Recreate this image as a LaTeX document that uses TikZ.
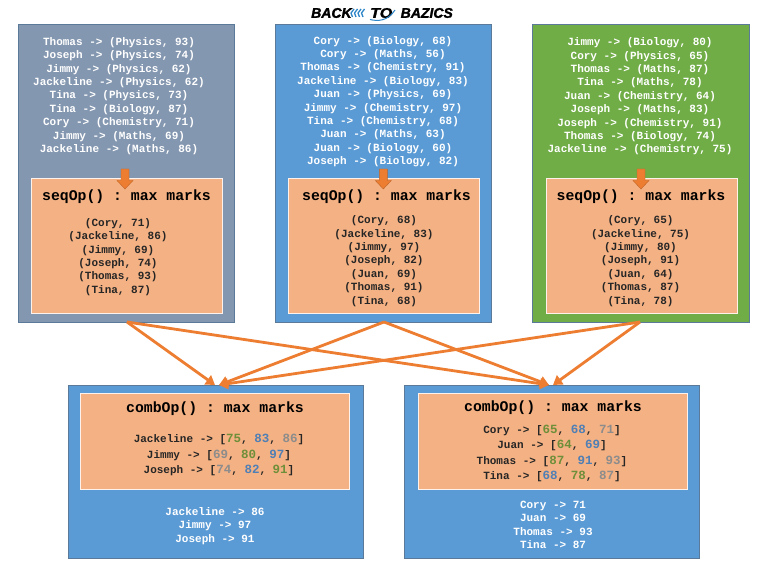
\documentclass[tikz,border=0pt]{standalone}
\usepackage{fontspec}
\setmainfont{Liberation Sans}
\setmonofont{Liberation Mono}
\newfontfamily\logofont{Liberation Sans}[BoldItalicFeatures={FakeBold=1.6}]
\usetikzlibrary{arrows.meta}
\definecolor{cslate}{HTML}{8497B0}
\definecolor{cblue}{HTML}{5B9BD5}
\definecolor{cgreen}{HTML}{70AD47}
\definecolor{cpeach}{HTML}{F4B183}
\definecolor{corange}{HTML}{ED7D31}
\definecolor{cedge}{HTML}{5B7A99}
\definecolor{ngreen}{HTML}{6E8F3A}
\definecolor{nblue}{HTML}{4F7FB5}
\definecolor{ngrey}{HTML}{8C8C8C}
\definecolor{chev}{HTML}{2E86C8}
\tikzset{
  x=1pt,y=-1pt,
  panel/.style={draw=cedge,line width=0.8pt,anchor=north west,inner sep=0pt,outer sep=0pt},
  inner panel/.style={fill=cpeach,draw=white!85!cpeach,line width=1pt,anchor=north west,inner sep=0pt,outer sep=0pt},
  light text/.style={text=white,font=\ttfamily\bfseries\fontsize{11}{13.4}\selectfont,align=center,inner sep=0pt},
  dark text/.style={text=black!85,font=\ttfamily\bfseries\fontsize{11}{13.4}\selectfont,align=center,inner sep=0pt},
  title text/.style={text=black,font=\ttfamily\bfseries\fontsize{14.8}{16}\selectfont,inner sep=0pt},
  wide dark text/.style={text=black!85,font=\ttfamily\bfseries\fontsize{11}{15.5}\selectfont,align=center,inner sep=0pt},
  flow/.style={draw=corange,line width=2.8pt,-{Triangle[length=9pt,width=11pt]}},
  small arrow/.style={fill=corange,draw=corange!80!black,line width=0.4pt},
  logo text/.style={inner sep=0pt,text=black,font=\logofont\bfseries\itshape\fontsize{14}{14}\selectfont},
  chevron/.style={draw=chev,line width=1.3pt},
}
\newcommand{\gn}[1]{{\fontsize{12.5}{15.5}\selectfont\textcolor{ngreen}{#1}}}
\newcommand{\bl}[1]{{\fontsize{12.5}{15.5}\selectfont\textcolor{nblue}{#1}}}
\newcommand{\gy}[1]{{\fontsize{12.5}{15.5}\selectfont\textcolor{ngrey}{#1}}}
\newcommand{\dnarrow}[1]{\draw[small arrow] (#1-4,169) -- (#1+4,169) -- (#1+4,180.5) -- (#1+8,180.5) -- (#1,189) -- (#1-8,180.5) -- (#1-4,180.5) -- cycle;}
\newcommand{\chevmark}[1]{\draw[chevron] (#1+3,9) -- (#1,13) -- (#1+1.5,17);}
\begin{document}
\begin{tikzpicture}
\useasboundingbox (0,0) rectangle (768,577);
\fill[white] (0,0) rectangle (768,577);
% panels
\node[panel,fill=cslate,minimum width=216pt,minimum height=298pt] (p1) at (18,24) {};
\node[panel,fill=cblue,minimum width=216pt,minimum height=298pt] (p2) at (275,24) {};
\node[panel,fill=cgreen,minimum width=217pt,minimum height=298pt] (p3) at (532,24) {};
\node[panel,fill=cblue,minimum width=295pt,minimum height=173pt] (c1) at (68,385) {};
\node[panel,fill=cblue,minimum width=295pt,minimum height=173pt] (c2) at (404,385) {};
% inner
\node[inner panel,minimum width=191pt,minimum height=134pt] (s1) at (31,179) {};
\node[inner panel,minimum width=191pt,minimum height=134pt] (s2) at (288,179) {};
\node[inner panel,minimum width=191pt,minimum height=134pt] (s3) at (546,179) {};
\node[inner panel,minimum width=269pt,minimum height=96pt] (i1) at (80,393) {};
\node[inner panel,minimum width=269pt,minimum height=96pt] (i2) at (418,393) {};
% input text
\node[light text] (t1) at (119,96) {Thomas -> (Physics, 93)\\Joseph -> (Physics, 74)\\Jimmy -> (Physics, 62)\\Jackeline -> (Physics, 62)\\Tina -> (Physics, 73)\\Tina -> (Biology, 87)\\Cory -> (Chemistry, 71)\\Jimmy -> (Maths, 69)\\Jackeline -> (Maths, 86)};
\node[light text] (t2) at (383,101.5) {Cory -> (Biology, 68)\\Cory -> (Maths, 56)\\Thomas -> (Chemistry, 91)\\Jackeline -> (Biology, 83)\\Juan -> (Physics, 69)\\Jimmy -> (Chemistry, 97)\\Tina -> (Chemistry, 68)\\Juan -> (Maths, 63)\\Juan -> (Biology, 60)\\Joseph -> (Biology, 82)};
\node[light text] (t3) at (640,96.5) {Jimmy -> (Biology, 80)\\Cory -> (Physics, 65)\\Thomas -> (Maths, 87)\\Tina -> (Maths, 78)\\Juan -> (Chemistry, 64)\\Joseph -> (Maths, 83)\\Joseph -> (Chemistry, 91)\\Thomas -> (Biology, 74)\\Jackeline -> (Chemistry, 75)};
% seqOp
\node[title text] (h1) at (126.5,196.5) {seqOp() : max marks};
\node[title text] (h2) at (386.5,197) {seqOp() : max marks};
\node[title text] (h3) at (641,196.5) {seqOp() : max marks};
\node[dark text] (r1) at (118,257) {(Cory, 71)\\(Jackeline, 86)\\(Jimmy, 69)\\(Joseph, 74)\\(Thomas, 93)\\(Tina, 87)};
\node[dark text] (r2) at (384,261) {(Cory, 68)\\(Jackeline, 83)\\(Jimmy, 97)\\(Joseph, 82)\\(Juan, 69)\\(Thomas, 91)\\(Tina, 68)};
\node[dark text] (r3) at (640.5,261) {(Cory, 65)\\(Jackeline, 75)\\(Jimmy, 80)\\(Joseph, 91)\\(Juan, 64)\\(Thomas, 87)\\(Tina, 78)};
% combOp
\node[title text] (k1) at (215,409) {combOp() : max marks};
\node[title text] (k2) at (553,408) {combOp() : max marks};
\node[wide dark text] (m1) at (219,455) {Jackeline -> [\gn{75}, \bl{83}, \gy{86}]\\Jimmy -> [\gy{69}, \gn{80}, \bl{97}]\\Joseph -> [\gy{74}, \bl{82}, \gn{91}]};
\node[wide dark text] (m2) at (552,453.5) {Cory -> [\gn{65}, \bl{68}, \gy{71}]\\Juan -> [\gn{64}, \bl{69}]\\Thomas -> [\gn{87}, \bl{91}, \gy{93}]\\Tina -> [\bl{68}, \gn{78}, \gy{87}]};
\node[light text] (o1) at (215,526) {Jackeline -> 86\\Jimmy -> 97\\Joseph -> 91};
\node[light text] (o2) at (553,525) {Cory -> 71\\Juan -> 69\\Thomas -> 93\\Tina -> 87};
% small arrows
\dnarrow{125}
\dnarrow{383.3}
\dnarrow{641}
% connectors
\coordinate (f1) at (127,322);
\coordinate (f2) at (384,322);
\coordinate (f3) at (640,322);
\coordinate (g1a) at (215,385);
\coordinate (g1b) at (219,385);
\coordinate (g2a) at (549,385);
\coordinate (g2b) at (553,385);
\draw[flow] (f1) -- (g1a);
\draw[flow] (f2) -- (g1b);
\draw[flow] (f3) -- (g1b);
\draw[flow] (f1) -- (g2a);
\draw[flow] (f2) -- (g2a);
\draw[flow] (f3) -- (g2b);
% logo
\node[logo text,anchor=west] (l1) at (311,13) {BACK};
\node[logo text,anchor=west,xscale=1.15] (l2) at (370,13) {TO};
\node[logo text,anchor=west] (l3) at (400.5,13) {BAZICS};
\chevmark{351}
\chevmark{354.5}
\chevmark{358}
\chevmark{361.5}
\draw[chev,line width=1pt] (370,19.5) .. controls (378,21.5) and (388,21) .. (395,10);
\end{tikzpicture}
\end{document}
